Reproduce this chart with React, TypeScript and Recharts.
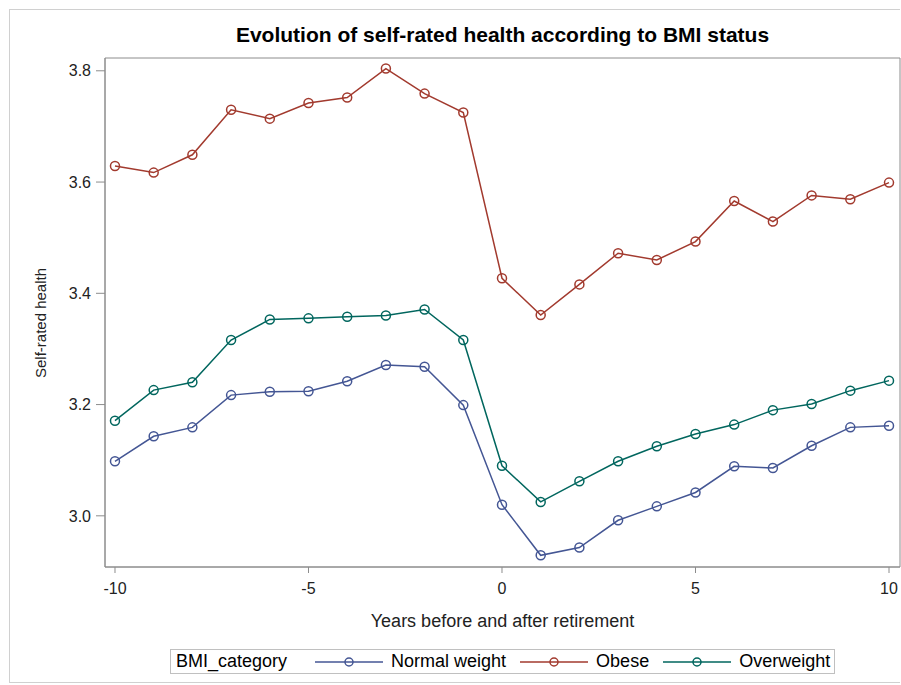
import React from "react";
import { LineChart, Line, XAxis, YAxis, CartesianGrid } from "recharts";

const years = [-10, -9, -8, -7, -6, -5, -4, -3, -2, -1, 0, 1, 2, 3, 4, 5, 6, 7, 8, 9, 10];
const normalWeight = [3.098, 3.143, 3.159, 3.217, 3.223, 3.224, 3.242, 3.271, 3.268, 3.199, 3.020, 2.929, 2.943, 2.992, 3.017, 3.042, 3.089, 3.086, 3.126, 3.159, 3.162];
const obese = [3.629, 3.617, 3.649, 3.730, 3.714, 3.742, 3.752, 3.804, 3.759, 3.725, 3.427, 3.361, 3.416, 3.472, 3.460, 3.493, 3.566, 3.529, 3.576, 3.569, 3.599];
const overweight = [3.171, 3.226, 3.240, 3.316, 3.353, 3.355, 3.358, 3.360, 3.371, 3.316, 3.090, 3.025, 3.062, 3.098, 3.125, 3.147, 3.164, 3.190, 3.201, 3.225, 3.243];
const xTicks = [-10, -5, 0, 5, 10];
const yTicks = [3.0, 3.2, 3.4, 3.6, 3.8];
const xDomain = [-10.258, 10.284];
const yDomain = [2.908, 3.823];

const series = [
  { key: "normal", name: "Normal weight", color: "#445694", values: normalWeight },
  { key: "obese", name: "Obese", color: "#A23A2E", values: obese },
  { key: "overweight", name: "Overweight", color: "#01665E", values: overweight },
];

const data = years.map((y, i) => {
  const row: Record<string, number> = { year: y };
  series.forEach((s) => {
    row[s.key] = s.values[i];
  });
  return row;
});

const FONT = "'Liberation Sans', Arial, sans-serif";
const AXIS_GRAY = "#8c8c8c";

export default function App() {
  return (
    <div style={{ position: "fixed", left: 8, top: 8, width: 893, height: 677, fontFamily: FONT, background: "#fff" }}>
      <div
        style={{
          position: "absolute",
          left: 1,
          top: 1,
          width: 891,
          height: 674,
          borderLeft: "1px solid #d0d0d0",
          borderTop: "1px solid #d0d0d0",
          borderBottom: "1px solid #d0d0d0",
          boxSizing: "border-box",
        }}
      />
      <div
        style={{
          position: "absolute",
          left: 97,
          width: 795,
          top: 15,
          textAlign: "center",
          fontWeight: "bold",
          fontSize: 21,
          color: "#000",
          lineHeight: "24px",
        }}
      >
        Evolution of self-rated health according to BMI status
      </div>
      <div style={{ position: "absolute", left: 0, top: 0 }}>
        <LineChart
          width={893}
          height={677}
          data={data}
          margin={{ top: 50, right: 1, bottom: 58, left: 0 }}
        >
          <CartesianGrid
            stroke={AXIS_GRAY}
            horizontalCoordinatesGenerator={({ offset }: any) => [offset.top, offset.top + offset.height]}
            verticalCoordinatesGenerator={({ offset }: any) => [offset.left, offset.left + offset.width]}
          />
          <XAxis
            dataKey="year"
            type="number"
            domain={xDomain}
            allowDataOverflow
            ticks={xTicks}
            height={60}
            tickSize={6}
            tickMargin={10}
            stroke={AXIS_GRAY}
            tick={{ fill: "#222", fontSize: 16, fontFamily: FONT }}
            label={({ viewBox }: any) => (
              <text
                x={viewBox.x + viewBox.width / 2}
                y={619}
                textAnchor="middle"
                fontSize={18}
                fontFamily={FONT}
                fill="#222"
              >
                Years before and after retirement
              </text>
            )}
          />
          <YAxis
            type="number"
            domain={yDomain}
            allowDataOverflow
            ticks={yTicks}
            width={97}
            tickSize={9}
            tickMargin={5}
            stroke={AXIS_GRAY}
            tickFormatter={(v: number) => v.toFixed(1)}
            tick={{ fill: "#222", fontSize: 16, fontFamily: FONT }}
            label={() => (
              <text
                x={0}
                y={0}
                transform="translate(38, 315) rotate(-90)"
                textAnchor="middle"
                fontSize={15}
                fontFamily={FONT}
                fill="#222"
              >
                Self-rated health
              </text>
            )}
          />
          {series.map((s) => (
            <Line
              key={s.key}
              dataKey={s.key}
              name={s.name}
              type="linear"
              stroke={s.color}
              strokeWidth={1.5}
              dot={{ r: 4.5, fill: "none", stroke: s.color, strokeWidth: 1.5 }}
              activeDot={false}
              isAnimationActive={false}
            />
          ))}
        </LineChart>
      </div>
      <div
        style={{
          position: "absolute",
          left: 162,
          top: 641,
          width: 665,
          height: 25,
          border: "1px solid #c0c0c0",
          boxSizing: "border-box",
          display: "flex",
          alignItems: "center",
          fontSize: 18,
          color: "#000",
          whiteSpace: "nowrap",
        }}
      >
        <span style={{ marginLeft: 5, marginRight: 28 }}>BMI_category</span>
        {series.map((s, i) => (
          <span key={s.key} style={{ display: "flex", alignItems: "center", marginRight: i < series.length - 1 ? 14 : 0 }}>
            <svg width={68} height={12} style={{ marginRight: 8 }}>
              <line x1={0} y1={6} x2={68} y2={6} stroke={s.color} strokeWidth={1.5} />
              <circle cx={34} cy={6} r={4} fill="none" stroke={s.color} strokeWidth={1.5} />
            </svg>
            <span>{s.name}</span>
          </span>
        ))}
      </div>
    </div>
  );
}
